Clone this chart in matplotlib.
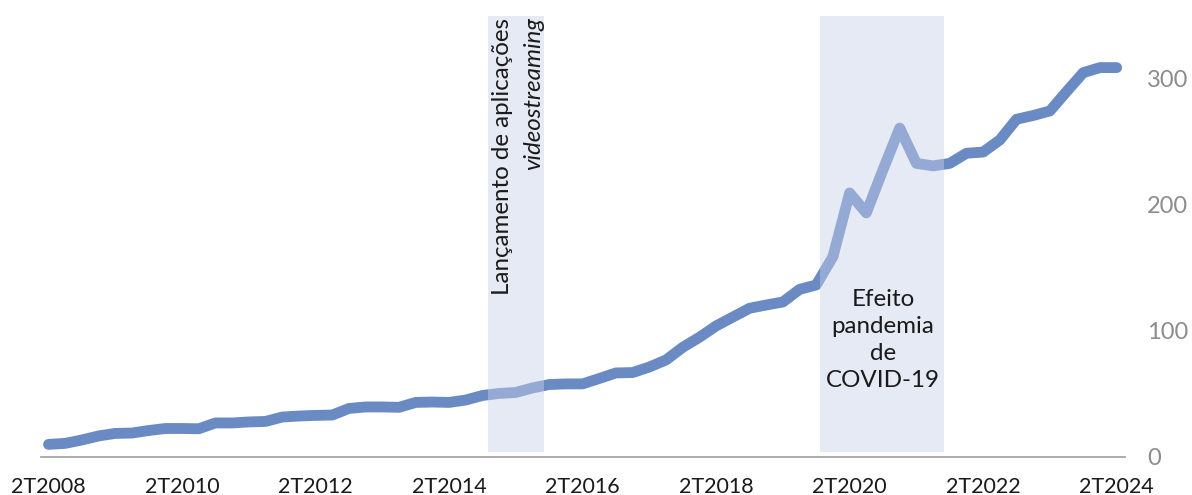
import matplotlib.pyplot as plt
import matplotlib as mpl

mpl.rcParams['font.family'] = ['Lato', 'DejaVu Sans']

# trimestres 2T2008 .. 2T2024
periodos = ['%dT%d' % (q, a) for a in range(2008, 2025) for q in range(1, 5)][1:66]
valores = [10, 10.8, 13.5, 16.7, 18.7, 19, 21, 22.6, 22.6, 22.4,
           27, 27, 27.8, 28.2, 31.7, 32.5, 33, 33.3, 38.5, 39.7,
           39.7, 39.4, 43.3, 43.6, 43.3, 45.2, 48.8, 50.4, 51.2, 54.8,
           57.5, 58, 58, 62.3, 66.7, 67, 71.4, 77, 87, 95,
           104, 111, 118, 120.6, 123, 133, 136.5, 159, 209.5, 193.7,
           228, 261, 233, 231, 233, 241, 242, 251.6, 268, 271,
           274.6, 290, 305, 309, 309]
rotulos_x = ['2T2008', '2T2010', '2T2012', '2T2014', '2T2016',
             '2T2018', '2T2020', '2T2022', '2T2024']
ticks_y = [0, 100, 200, 300]

# periodos sombreados (posicao no eixo de categorias)
sombra_streaming = (26.35, 29.7)
sombra_covid = (46.2, 53.65)

fig = plt.figure(figsize=(11.92, 4.95), dpi=100)
ax = fig.add_axes([0.0344, 0.0768, 0.9094, 0.891])

x = list(range(len(valores)))
ax.plot(x, valores, color='#6A8AC4', linewidth=7.8, solid_capstyle='round',
        solid_joinstyle='round', zorder=2)

for a, b in [sombra_streaming, sombra_covid]:
    ax.axvspan(a, b, ymin=0.0103, ymax=1, color='#C8D2E8', alpha=0.45,
               linewidth=0, zorder=3)

ax.set_xlim(-0.45, 64.5)
ax.set_ylim(0, 350)

ax.set_xticks([periodos.index(r) for r in rotulos_x])
ax.set_xticklabels(rotulos_x, fontsize=15.5, color='#1a1a1a')
ax.tick_params(axis='x', length=0, pad=14.5)

ax.yaxis.tick_right()
ax.set_yticks(ticks_y)
ax.set_yticklabels([str(v) for v in ticks_y], fontsize=17, color='#8c8c8c')
ax.tick_params(axis='y', length=0, pad=16)

for s in ['top', 'left', 'right']:
    ax.spines[s].set_visible(False)
ax.spines['bottom'].set_color('#a6a6a6')
ax.spines['bottom'].set_linewidth(1.3)

ax.text(27.2, 348, 'Lançamento de aplicações', rotation=90, ha='center',
        va='top', fontsize=17.4, color='#1a1a1a', zorder=4)
ax.text(29.05, 349, 'videostreaming', rotation=90, ha='center', va='top',
        fontsize=17.4, style='italic', color='#1a1a1a', zorder=4)
ax.text(50.0, 93, 'Efeito\npandemia\nde\nCOVID-19', ha='center', va='center',
        fontsize=17.4, color='#1a1a1a', linespacing=1.36, zorder=4)

fig.savefig('out.png', dpi=100)
